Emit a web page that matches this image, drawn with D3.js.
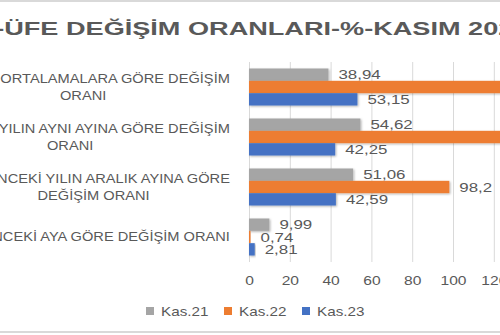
<!DOCTYPE html>
<html>
<head>
<meta charset="utf-8">
<script src="https://cdn.jsdelivr.net/npm/d3@7"></script>
<style>
  body { margin: 0; background: #fff; overflow: hidden; }
  text { font-family: "Liberation Sans", Arial, sans-serif; fill: #595959; }
</style>
</head>
<body>
<svg width="500" height="335"></svg>
<script>
// category labels, already split into the lines Excel wrapped them to
var categories = [
    ["12 AYLIK ORTALAMALARA GÖRE DEĞİŞİM", "ORANI"],
    ["BİR ÖNCEKİ YILIN AYNI AYINA GÖRE DEĞİŞİM", "ORANI"],
    ["BİR ÖNCEKİ YILIN ARALIK AYINA GÖRE", "DEĞİŞİM ORANI"],
    ["BİR ÖNCEKİ AYA GÖRE DEĞİŞİM ORANI"]
];
var series = ["Kas.21", "Kas.22", "Kas.23"];
var kas21 = [38.94, 54.62, 51.06, 9.99];
var kas22 = [128.47, 136.02, 98.2, 0.74];
var kas23 = [53.15, 42.25, 42.59, 2.81];
var xTicks = [0, 20, 40, 60, 80, 100, 120, 140];
var title = "Yİ-ÜFE DEĞİŞİM ORANLARI-%-KASIM 2023";

var values = [kas21, kas22, kas23],
    colors = ["#a5a5a5", "#ed7d31", "#4472c4"];

var svg = d3.select("svg");

// the picture is stretched sideways, so text gets a horizontal scale
var sxTitle = 1.55, sxLabel = 1.22, sxTick = 1.3, sxData = 1.3;

var x = d3.scaleLinear()
    .domain([0, 140])
    .range([249, 534.6]);

var y = d3.scaleBand()
    .domain(d3.range(categories.length))
    .range([62, 262])
    .paddingInner(0.26)
    .paddingOuter(0.13);

var ySub = d3.scaleBand()
    .domain(series)
    .range([0, y.bandwidth()]);

var fmt = function(v) { return String(v).replace(".", ","); };

var defs = svg.append("defs");
var shadow = defs.append("filter").attr("id", "shadow")
    .attr("x", "-10%").attr("y", "-30%").attr("width", "130%").attr("height", "180%");
shadow.append("feDropShadow")
    .attr("dx", 1).attr("dy", 1).attr("stdDeviation", 1)
    .attr("flood-color", "#000").attr("flood-opacity", 0.3);

// chart area border (only top and bottom are in the picture)
svg.append("line").attr("x1", 0).attr("x2", 500).attr("y1", 1).attr("y2", 1)
    .attr("stroke", "#d9d9d9").attr("stroke-width", 2);
svg.append("line").attr("x1", 0).attr("x2", 500).attr("y1", 332).attr("y2", 332)
    .attr("stroke", "#d9d9d9").attr("stroke-width", 2);

// title
svg.append("g")
    .attr("transform", "translate(249,35) scale(" + sxTitle + ",1)")
  .append("text")
    .attr("text-anchor", "middle")
    .style("font-size", "17.5px")
    .style("font-weight", "bold")
    .text(title);

// x axis with gridlines
var xAxis = svg.append("g")
    .attr("class", "axis axis--x")
    .attr("transform", "translate(0," + 262 + ")")
    .call(d3.axisBottom(x).tickValues(xTicks).tickSize(-200));

xAxis.select(".domain").remove();
xAxis.selectAll("line").attr("stroke", "#d9d9d9");
xAxis.selectAll("text")
    .attr("y", 23)
    .attr("dy", null)
    .attr("transform", "scale(" + sxTick + ",1)")
    .style("font-size", "12px")
    .style("font-family", "\"Liberation Sans\", Arial, sans-serif")
    .attr("fill", "#595959");

// bars
var groups = svg.append("g").selectAll("g")
    .data(categories)
  .enter().append("g")
    .attr("transform", function(d, i) { return "translate(0," + y(i) + ")"; });

groups.each(function(d, i) {
    var g = d3.select(this);
    series.forEach(function(s, j) {
        var v = values[j][i];
        g.append("rect")
            .attr("x", x(0))
            .attr("y", ySub(s))
            .attr("width", x(v) - x(0))
            .attr("height", ySub.bandwidth())
            .attr("fill", colors[j])
            .attr("filter", "url(#shadow)");

        g.append("g")
            .attr("transform", "translate(" + (x(v) + 10) + "," + (ySub(s) + ySub.bandwidth() / 2 + 4.6) + ") scale(" + sxData + ",1)")
          .append("text")
            .style("font-size", "13px")
            .text(fmt(v));
    });
});

// category labels, right edge near the axis, each block centred on its widest line
var lineH = 17;
categories.forEach(function(lines, i) {
    var cy = y(i) + y.bandwidth() / 2;
    var g = svg.append("g");
    var t = g.append("text")
        .attr("text-anchor", "middle")
        .style("font-size", "12px");
    lines.forEach(function(l, k) {
        t.append("tspan")
            .attr("x", 0)
            .attr("y", (k - (lines.length - 1) / 2) * lineH + 4.3)
            .text(l);
    });
    var maxW = d3.max(t.selectAll("tspan").nodes(), function(n) { return n.getComputedTextLength(); });
    g.attr("transform", "translate(" + (230 - maxW * sxLabel / 2) + "," + cy + ") scale(" + sxLabel + ",1)");
});

// legend
var legend = svg.append("g").selectAll("g")
    .data(series)
  .enter().append("g")
    .attr("transform", function(d, i) { return "translate(" + (146 + i * 78) + ",307)"; });

legend.append("rect")
    .attr("width", 8)
    .attr("height", 8)
    .attr("fill", function(d, i) { return colors[i]; });

legend.append("g")
    .attr("transform", "translate(15,9) scale(" + sxLabel + ",1)")
  .append("text")
    .style("font-size", "12.5px")
    .text(function(d) { return d; });
</script>
</body>
</html>
